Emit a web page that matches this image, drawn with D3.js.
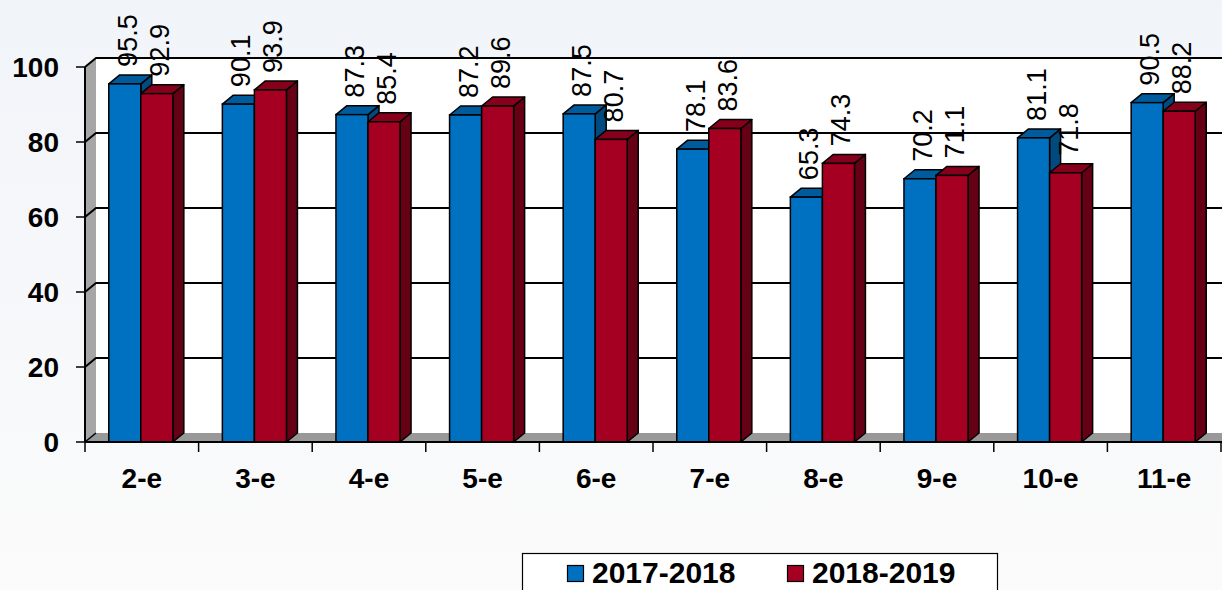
<!DOCTYPE html>
<html>
<head>
<meta charset="utf-8">
<script src="https://cdn.jsdelivr.net/npm/d3@7"></script>
<style>
    html, body { margin: 0; padding: 0; }
    body { width: 1222px; height: 590px; overflow: hidden; font-family: "Liberation Sans", Arial, sans-serif; }
</style>
</head>
<body>
<svg id="chart" width="1222" height="590"></svg>
<script>
const categories = ['2-e', '3-e', '4-e', '5-e', '6-e', '7-e', '8-e', '9-e', '10-e', '11-e']
const seriesNames = ['2017-2018', '2018-2019']
const values2017 = [95.5, 90.1, 87.3, 87.2, 87.5, 78.1, 65.3, 70.2, 81.1, 90.5]
const values2018 = [92.9, 93.9, 85.4, 89.6, 80.7, 83.6, 74.3, 71.1, 71.8, 88.2]
const yTicks = [0, 20, 40, 60, 80, 100]

// front, top, side colours for each series
const palette = [
    { front: '#0070c0', top: '#005b9c', side: '#004a80' },
    { front: '#a50021', top: '#86001b', side: '#660014' }
]

class BarChart3D {
    constructor() {
        this.svg = d3.select('#chart')
        this.width = 1222
        this.depth = { x: 11, y: -9 } // offset of the back wall

        this.x = d3.scaleBand()
            .domain(categories)
            .range([85, 1221])
            .padding(0)

        this.y = d3.scaleLinear()
            .domain([0, 100])
            .range([442, 67])

        this.barWidth = this.x.bandwidth() * 0.282
    }

    draw() {
        this.drawBackground()
        this.drawWalls()
        this.drawBars()
        this.drawAxes()
        this.drawLegend()
    }

    drawBackground() {
        const grad = this.svg.append('defs').append('linearGradient')
            .attr('id', 'bg')
            .attr('x1', 0).attr('y1', 0).attr('x2', 0).attr('y2', 1)
        grad.append('stop').attr('offset', '0%').attr('stop-color', '#f1f4f9')
        grad.append('stop').attr('offset', '100%').attr('stop-color', '#fbfbfb')

        this.svg.append('rect')
            .attr('width', this.width).attr('height', 590)
            .attr('fill', 'url(#bg)')
    }

    drawWalls() {
        const dx = this.depth.x, dy = this.depth.y
        const x0 = this.x.range()[0]
        const yTop = this.y(100), yBottom = this.y(0)

        // back wall
        this.svg.append('rect')
            .attr('x', x0 + dx).attr('y', yTop + dy)
            .attr('width', this.width - x0 - dx).attr('height', yBottom - yTop)
            .attr('fill', '#fff')

        // left wall
        this.svg.append('path')
            .attr('d', `M${x0},${yTop}L${x0 + dx},${yTop + dy}L${x0 + dx},${yBottom + dy}L${x0},${yBottom}Z`)
            .attr('fill', '#a6a6a6')

        // floor
        this.svg.append('path')
            .attr('d', `M${x0},${yBottom}L${x0 + dx},${yBottom + dy}L${this.width},${yBottom + dy}L${this.width},${yBottom}Z`)
            .attr('fill', '#999')

        // gridlines: slanted part on the left wall, then straight across the back wall
        this.svg.append('g').selectAll('path')
            .data(yTicks.filter(t => t > 0))
            .join('path')
            .attr('d', t => `M${x0},${this.y(t)}L${x0 + dx},${this.y(t) + dy}L${this.width},${this.y(t) + dy}`)
            .attr('fill', 'none')
            .attr('stroke', '#000')
            .attr('stroke-width', 2)

        this.svg.append('path')
            .attr('d', `M${x0},${yBottom}L${x0 + dx},${yBottom + dy}`)
            .attr('stroke', '#000')
            .attr('stroke-width', 1.5)
    }

    drawBars() {
        const dx = this.depth.x, dy = this.depth.y
        const w = this.barWidth
        const y0 = this.y(0)

        const rows = categories.map((c, i) => ({ cat: c, values: [values2017[i], values2018[i]] }))

        const groups = this.svg.append('g').selectAll('g.cat')
            .data(rows)
            .join('g')
            .classed('cat', true)

        groups.each((row, i, nodes) => {
            const g = d3.select(nodes[i])
            const center = this.x(row.cat) + this.x.bandwidth() / 2 - 1

            row.values.forEach((v, s) => {
                const bx = center - w + s * w
                const by = this.y(v)
                const col = palette[s]

                g.append('path') // side
                    .attr('d', `M${bx + w},${by}L${bx + w + dx},${by + dy}L${bx + w + dx},${y0 + dy}L${bx + w},${y0}Z`)
                    .attr('fill', col.side)
                    .attr('stroke', '#000').attr('stroke-width', 1.5).attr('stroke-linejoin', 'round')

                g.append('path') // top
                    .attr('d', `M${bx},${by}L${bx + dx},${by + dy}L${bx + w + dx},${by + dy}L${bx + w},${by}Z`)
                    .attr('fill', col.top)
                    .attr('stroke', '#000').attr('stroke-width', 1.5).attr('stroke-linejoin', 'round')

                g.append('rect') // front
                    .attr('x', bx).attr('y', by)
                    .attr('width', w).attr('height', y0 - by)
                    .attr('fill', col.front)
                    .attr('stroke', '#000').attr('stroke-width', 1.5)
            })
        })

        // value labels go on top of everything
        const labels = []
        categories.forEach((c, i) => {
            const center = this.x(c) + this.x.bandwidth() / 2 - 1
            labels.push({ x: center - w / 2, v: values2017[i] })
            labels.push({ x: center + w / 2, v: values2018[i] })
        })

        this.svg.append('g').selectAll('text')
            .data(labels)
            .join('text')
            .attr('transform', d => `translate(${d.x + 12},${this.y(d.v) - 17}) rotate(-90)`)
            .attr('text-anchor', 'start')
            .attr('font-size', 27)
            .attr('fill', '#000')
            .text(d => d.v.toFixed(1))
    }

    drawAxes() {
        const x0 = this.x.range()[0]
        const y0 = this.y(0)

        // value axis
        this.svg.append('line')
            .attr('x1', x0).attr('x2', x0)
            .attr('y1', this.y(100)).attr('y2', y0)
            .attr('stroke', '#000').attr('stroke-width', 2)

        const yAxis = this.svg.append('g')
        yAxis.selectAll('line')
            .data(yTicks)
            .join('line')
            .attr('x1', x0 - 9).attr('x2', x0)
            .attr('y1', d => this.y(d)).attr('y2', d => this.y(d))
            .attr('stroke', '#000').attr('stroke-width', 1.5)
        yAxis.selectAll('text')
            .data(yTicks)
            .join('text')
            .attr('x', 59)
            .attr('y', d => this.y(d) + 10)
            .attr('text-anchor', 'end')
            .attr('font-size', 28)
            .attr('font-weight', 'bold')
            .text(d => d)

        // category axis
        this.svg.append('line')
            .attr('x1', x0).attr('x2', this.width)
            .attr('y1', y0).attr('y2', y0)
            .attr('stroke', '#000').attr('stroke-width', 2)

        const bounds = categories.map(c => this.x(c)).concat([this.x.range()[1]])
        this.svg.append('g').selectAll('line')
            .data(bounds)
            .join('line')
            .attr('x1', d => d).attr('x2', d => d)
            .attr('y1', y0).attr('y2', y0 + 10)
            .attr('stroke', '#000').attr('stroke-width', 1.5)

        this.svg.append('g').selectAll('text')
            .data(categories)
            .join('text')
            .attr('x', d => this.x(d) + this.x.bandwidth() / 2)
            .attr('y', 488)
            .attr('text-anchor', 'middle')
            .attr('font-size', 28)
            .attr('font-weight', 'bold')
            .text(d => d)
    }

    drawLegend() {
        const legend = this.svg.append('g')

        legend.append('rect')
            .attr('x', 522.5).attr('y', 553.5)
            .attr('width', 475).attr('height', 60)
            .attr('fill', '#fff')
            .attr('stroke', '#000').attr('stroke-width', 1.2)

        const items = legend.selectAll('g')
            .data(seriesNames)
            .join('g')
            .attr('transform', (d, i) => `translate(${567 + i * 220},0)`)

        items.append('rect')
            .attr('x', 0.5).attr('y', 565.5)
            .attr('width', 16).attr('height', 16)
            .attr('fill', (d, i) => palette[i].front)
            .attr('stroke', '#000').attr('stroke-width', 1.2)

        items.append('text')
            .attr('x', 25)
            .attr('y', 583)
            .attr('font-size', 30)
            .attr('font-weight', 'bold')
            .text(d => d)
    }
}

new BarChart3D().draw()
</script>
</body>
</html>
